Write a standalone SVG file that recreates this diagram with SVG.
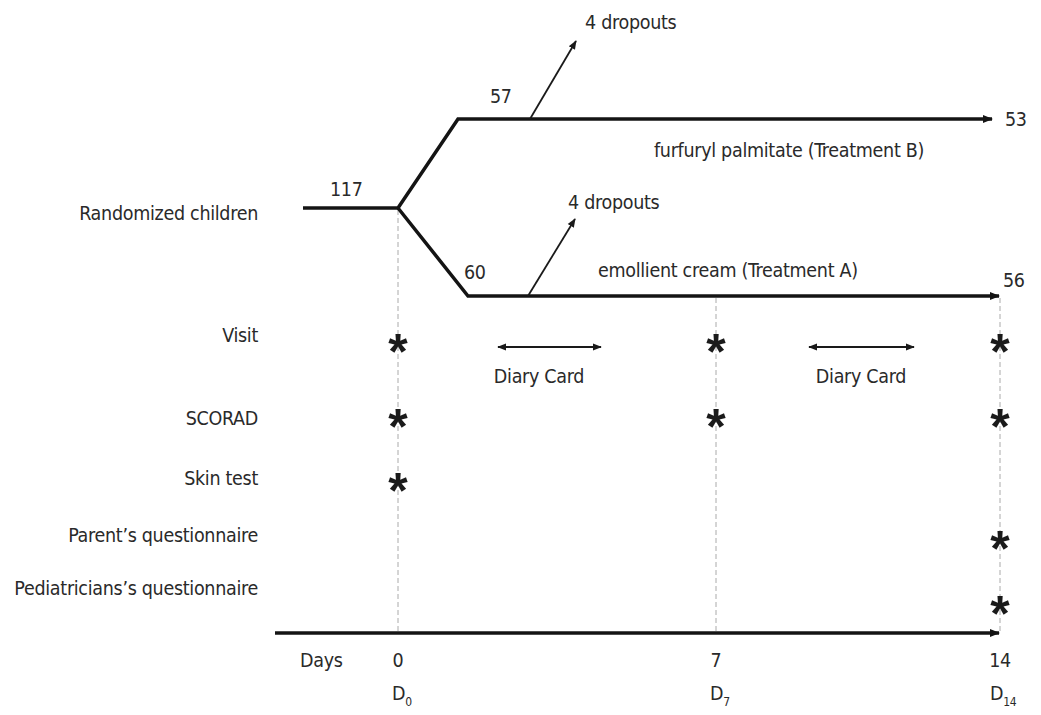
<svg xmlns="http://www.w3.org/2000/svg" width="1041" height="715" viewBox="0 0 1041 715">
<style>
text{font-family:"DejaVu Sans Condensed","Liberation Sans",sans-serif;font-size:19.5px;fill:#2a2a2a;letter-spacing:-0.3px}
.r{text-anchor:end}
.m{text-anchor:middle}
.ast{font-family:"Liberation Sans",sans-serif;font-weight:bold;font-size:50px;text-anchor:middle;fill:#1a1a1a;letter-spacing:0}
.thick{stroke:#141414;stroke-width:3.5;fill:none;stroke-linejoin:miter}
.thin{stroke:#1a1a1a;stroke-width:1.8;fill:none}
.dash{stroke:#aaa;stroke-width:1;stroke-dasharray:5 3;fill:none}
</style>
<defs>
<marker id="ah" viewBox="0 0 10 10" refX="9" refY="5" markerWidth="10" markerHeight="10" markerUnits="userSpaceOnUse" orient="auto-start-reverse">
<path d="M0,1 L10,5 L0,9 z" fill="#141414"/>
</marker>
<marker id="ahs" viewBox="0 0 10 10" refX="9" refY="5" markerWidth="9" markerHeight="9" markerUnits="userSpaceOnUse" orient="auto-start-reverse">
<path d="M0,1 L10,5 L0,9 z" fill="#1a1a1a"/>
</marker>
</defs>
<g id="connectors">
<line class="dash" x1="398" y1="210" x2="398" y2="633"/>
<line class="dash" x1="716" y1="298" x2="716" y2="633"/>
<line class="dash" x1="1000" y1="298" x2="1000" y2="633"/>
<polyline class="thick" points="303,208 398,208 458,119 992,119" marker-end="url(#ah)"/>
<polyline class="thick" points="398,208 468,296 999,296" marker-end="url(#ah)"/>
<line class="thin" x1="530" y1="119" x2="576" y2="41" marker-end="url(#ahs)"/>
<line class="thin" x1="528" y1="296" x2="575" y2="219" marker-end="url(#ahs)"/>
<line class="thin" x1="498" y1="347" x2="601" y2="347" marker-start="url(#ahs)" marker-end="url(#ahs)"/>
<line class="thin" x1="809" y1="347" x2="914" y2="347" marker-start="url(#ahs)" marker-end="url(#ahs)"/>
<line class="thick" x1="275" y1="633" x2="999" y2="633" marker-end="url(#ah)"/>
</g>
<g id="labels-left">
<text class="r" x="258" y="220">Randomized children</text>
<text class="r" x="258" y="342">Visit</text>
<text class="r" x="258" y="425">SCORAD</text>
<text class="r" x="258" y="485">Skin test</text>
<text class="r" x="258" y="542">Parent’s questionnaire</text>
<text class="r" x="258" y="595">Pediatricians’s questionnaire</text>
</g>
<g id="flow-labels">
<text x="330" y="196">117</text>
<text x="490" y="103">57</text>
<text x="585" y="29">4 dropouts</text>
<text x="654" y="157">furfuryl palmitate (Treatment B)</text>
<text x="1005" y="126">53</text>
<text x="464" y="279">60</text>
<text x="568" y="209">4 dropouts</text>
<text x="598" y="277">emollient cream (Treatment A)</text>
<text x="1003" y="287">56</text>
</g>
<g id="diary">
<text class="m" x="539" y="383">Diary Card</text>
<text class="m" x="861" y="383">Diary Card</text>
</g>
<g id="asterisks">
<text class="ast" x="398" y="369">*</text>
<text class="ast" x="398" y="444">*</text>
<text class="ast" x="398" y="508">*</text>
<text class="ast" x="716" y="369">*</text>
<text class="ast" x="716" y="444">*</text>
<text class="ast" x="1000" y="369">*</text>
<text class="ast" x="1000" y="444">*</text>
<text class="ast" x="1000" y="566">*</text>
<text class="ast" x="1000" y="631">*</text>
</g>
<g id="axis-labels">
<text x="300" y="667">Days</text>
<text class="m" x="398" y="667">0</text>
<text class="m" x="716" y="667">7</text>
<text class="m" x="1000" y="667">14</text>
<text x="392" y="700">D<tspan font-size="12" dy="6">0</tspan></text>
<text x="710" y="700">D<tspan font-size="12" dy="6">7</tspan></text>
<text x="990" y="700">D<tspan font-size="12" dy="6">14</tspan></text>
</g>
</svg>
